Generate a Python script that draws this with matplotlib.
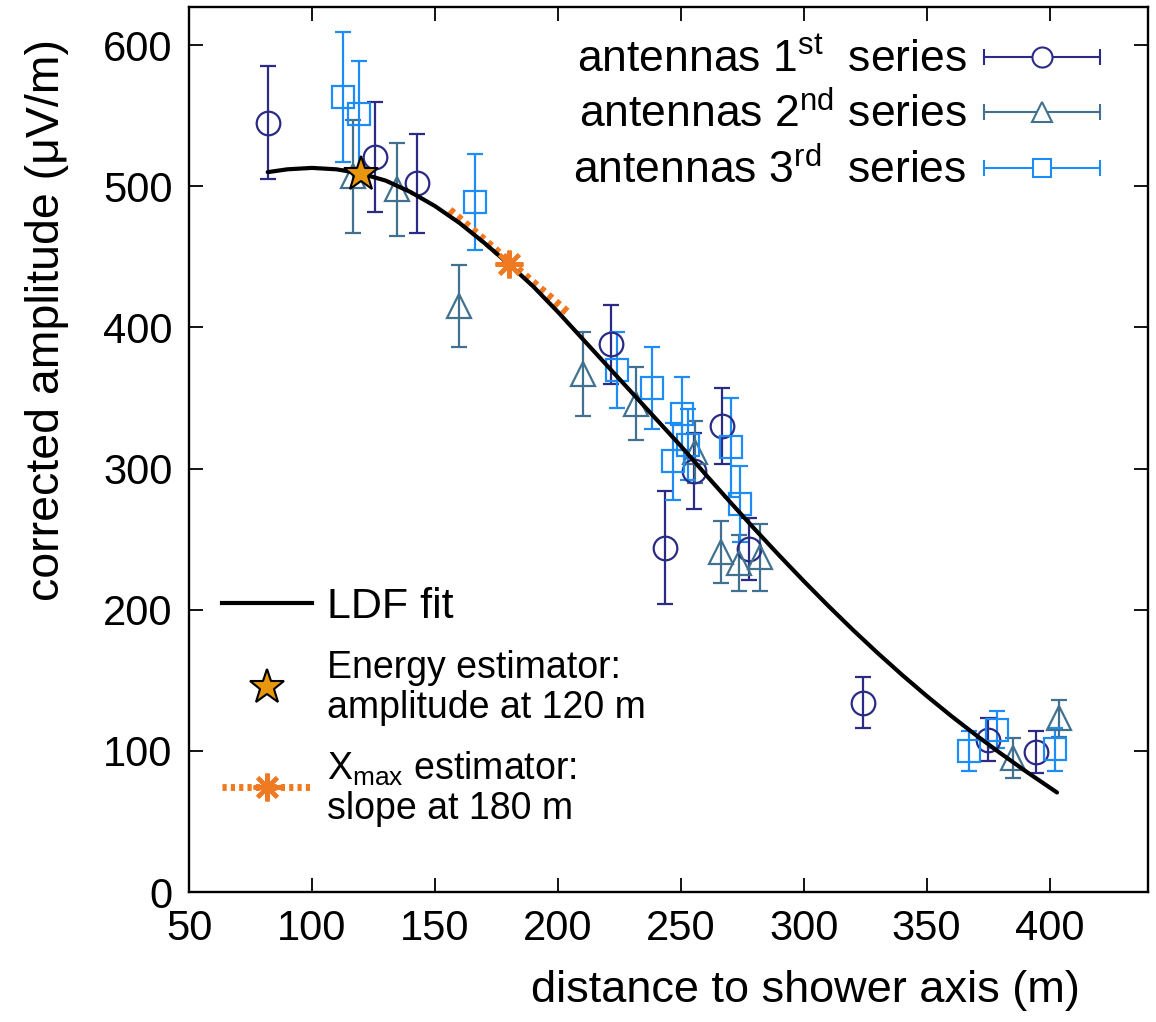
import numpy as np
import matplotlib
matplotlib.use("Agg")
import matplotlib.pyplot as plt
from matplotlib.lines import Line2D
from matplotlib.legend_handler import HandlerBase

plt.rcParams['font.family'] = ['Liberation Sans', 'DejaVu Sans']
plt.rcParams['mathtext.fontset'] = 'custom'
plt.rcParams['mathtext.rm'] = 'Liberation Sans'
plt.rcParams['mathtext.it'] = 'Liberation Sans:italic'

# antennas 1st series (circles)
s1_x = [82, 125.6, 142.7, 221.8, 243.5, 255.3, 266.9, 277.8, 324, 374.9, 394.3]
s1_y = [545, 521, 502, 388, 244, 298, 330, 243, 134, 108, 99]
s1_err = [40, 39, 35, 28, 40, 27, 27, 22, 18, 15, 15]

# antennas 2nd series (triangles)
s2_x = [116.7, 134.4, 159.9, 210.3, 231.9, 255.7, 266.5, 273.7, 282.1, 385.1, 404]
s2_y = [507, 498, 415, 367, 346, 312, 241, 233, 237, 95, 123]
s2_err = [40, 33, 29, 30, 26, 22, 22, 20, 24, 14, 13]

# antennas 3rd series (squares)
s3_x = [112.7, 119.1, 166.5, 224.1, 238.1, 246.9, 250.3, 253, 270.6, 274, 367.2, 378.6, 402]
s3_y = [563, 551, 489, 370, 357, 305, 339, 317, 315, 275, 100, 115, 101]
s3_err = [46, 38, 34, 27, 29, 27, 26, 25, 35, 27, 14, 13, 15]

# LDF fit
ldf_x = [82, 90, 100, 110, 120, 130, 140, 150, 160, 170, 180, 190, 200, 210, 220,
         230, 240, 250, 260, 270, 280, 290, 300, 310, 320, 330, 340, 350, 360,
         370, 380, 390, 403]
ldf_y = [510, 512, 513, 512, 509, 504, 496, 486, 474, 460, 445, 429, 411, 392, 373,
         354, 335, 316, 296, 276.4, 257.2, 238.5, 220.3, 202.7, 185.7, 169.4, 153.8,
         138.9, 124.7, 111.2, 98.3, 85.9, 70.5]

# estimators
energy_x, energy_y = [120], [509]
xmax_x, xmax_y = [180], [445]
slope_x = [156, 205]
slope_y = [483, 409]

c1 = "#2B2B85"
c2 = "#41718E"
c3 = "#1E8CF5"
c_star = "#E8960C"
c_orange = "#F07A22"


class HandlerHErr(HandlerBase):
    # horizontal error bar with caps and marker in the middle
    def create_artists(self, legend, orig_handle, xdescent, ydescent,
                       width, height, fontsize, trans):
        c = orig_handle.get_color()
        y = height / 2 - ydescent
        x0, x1 = -xdescent, width - xdescent
        bar = Line2D([x0, x1], [y, y], color=c, lw=1.5)
        caps = Line2D([x0, x1], [y, y], color=c, ls='none', marker='|', ms=12, mew=1.5)
        mk = Line2D([(x0 + x1) / 2], [y], ls='none', marker=orig_handle.get_marker(),
                    ms=orig_handle.get_markersize() * 0.85, mfc='white', mec=c, mew=1.5)
        for a in (bar, caps, mk):
            a.set_transform(trans)
        return [bar, caps, mk]


fig = plt.figure(figsize=(11.56, 10.22), dpi=100)
ax = fig.add_axes([0.16349, 0.12720, 0.82958, 0.86595])

ax.plot(slope_x, slope_y, color=c_orange, lw=6, ls=(0, (0.6, 0.6)), zorder=3)
ax.plot(ldf_x, ldf_y, color='black', lw=3, zorder=4, solid_capstyle='round',
        solid_joinstyle='round')

for xs, ys, es, c, m, ms in [(s1_x, s1_y, s1_err, c1, 'o', 17),
                             (s2_x, s2_y, s2_err, c2, '^', 17),
                             (s3_x, s3_y, s3_err, c3, 's', 16)]:
    ax.errorbar(xs, ys, yerr=es, fmt=m, ms=ms, mfc='none', mec=c, mew=1.6,
                ecolor=c, elinewidth=1.6, capsize=6, capthick=1.6, zorder=2)

ax.plot(energy_x, energy_y, ls='none', marker='*', ms=26, mfc=c_star, mec='black',
        mew=1.5, zorder=5)
ax.plot(xmax_x, xmax_y, ls='none', marker=(8, 2, 0), ms=20, mec=c_orange, mew=3,
        zorder=5)

ax.set_xlim(50, 440)
ax.set_ylim(0, 627)
ax.set_xticks([50, 100, 150, 200, 250, 300, 350, 400])
ax.set_yticks([0, 100, 200, 300, 400, 500, 600])
ax.tick_params(direction='in', length=10, width=1.3, top=True, right=True,
               labelsize=30, pad=12)
for sp in ax.spines.values():
    sp.set_linewidth(1.7)

ax.set_xlabel("distance to shower axis (m)", fontsize=32.5)
ax.xaxis.set_label_coords(0.643, -0.088)
ax.set_ylabel("corrected amplitude (\u03bcV/m)", fontsize=33.5)
ax.yaxis.set_label_coords(-0.125, 0.646)

# upper legend: antenna series
h1 = Line2D([], [], color=c1, marker='o', ms=17)
h2 = Line2D([], [], color=c2, marker='^', ms=17)
h3 = Line2D([], [], color=c3, marker='s', ms=16)
leg1 = ax.legend([h1, h2, h3],
                 ["antennas 1$^{\\mathrm{st}}$  series",
                  "antennas 2$^{\\mathrm{nd}}$ series",
                  "antennas 3$^{\\mathrm{rd}}$  series"],
                 handler_map={Line2D: HandlerHErr()}, loc='upper right',
                 bbox_to_anchor=(0.95, 0.963), borderpad=0, borderaxespad=0,
                 frameon=False, markerfirst=False, fontsize=32, handlelength=2.6,
                 handletextpad=0.4, labelspacing=0.25)
ax.add_artist(leg1)

# lower legend: fit and estimators
g1 = Line2D([], [], color='black', lw=3)
g2 = Line2D([], [], ls='none', marker='*', ms=26, mfc=c_star, mec='black', mew=1.5)
g3 = Line2D([], [], color=c_orange, lw=5, ls=(0, (0.6, 0.6)), marker=(8, 2, 0),
            ms=20, mec=c_orange, mew=3)
leg2 = ax.legend([g1, g2, g3],
                 ["LDF fit", "Energy estimator:\namplitude at 120 m",
                  "X$_{\\mathrm{max}}$ estimator:\nslope at 180 m"],
                 loc='upper left', bbox_to_anchor=(0.034, 0.345), borderpad=0,
                 borderaxespad=0, frameon=False, fontsize=31, handlelength=2.1,
                 handletextpad=0.35, labelspacing=0.55)
for t in leg2.get_texts()[1:]:
    t.set_fontsize(27)
    t.set_linespacing(1.12)

fig.savefig("out.png", dpi=100)
